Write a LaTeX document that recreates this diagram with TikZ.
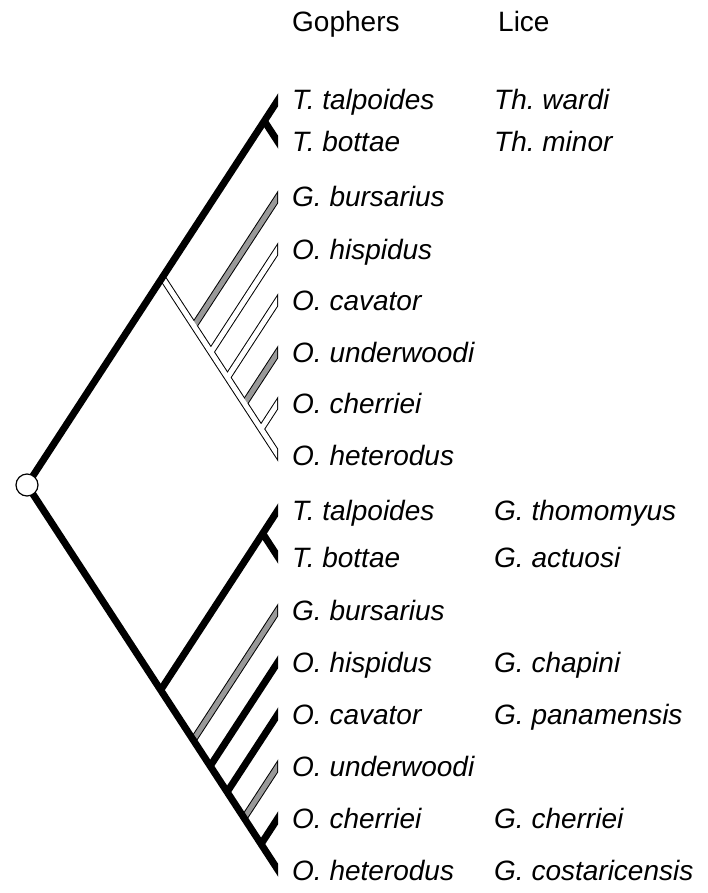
\documentclass[tikz,border=0pt]{standalone}
\usepackage{fontspec}
\setmainfont{Liberation Sans}
\frenchspacing
\definecolor{hostgrey}{RGB}{153,153,153}

\begin{document}
\begin{tikzpicture}[x=1pt,y=-1pt]

\tikzset{branch/.style = {line width=7pt, shorten >=-12pt}}
\tikzset{outline/.style = {line width=7pt, black, shorten >=-12pt}}
\tikzset{hollow/.style = {line width=5pt, shorten >=-12pt}}
\tikzset{rootdot/.style = {shape=circle, draw, fill=white, line width=1.2pt, minimum size=22pt, inner sep=0pt}}
\tikzset{taxon/.style = {anchor=west, inner sep=0pt, text height=20pt, text depth=0pt, font=\fontsize{28}{34}\selectfont\itshape}}
\tikzset{head/.style = {anchor=west, inner sep=0pt, text height=20pt, text depth=0pt, font=\fontsize{28}{34}\selectfont}}

\useasboundingbox (0,0) rectangle (708,893);

% internal nodes
\coordinate (root) at (27,485);
\coordinate (A)   at (162.3,277.5);
\coordinate (uT)  at (264.3,121);
\coordinate (uN1) at (193.9,326);
\coordinate (uN2) at (210.9,352);
\coordinate (uN3) at (227.5,377.5);
\coordinate (uN4) at (244.4,403.5);
\coordinate (uN5) at (261.1,429);
\coordinate (B)   at (160.7,690);
\coordinate (lT)  at (262.7,533.5);
\coordinate (lN1) at (193.3,740);
\coordinate (lN2) at (210.2,766);
\coordinate (lN3) at (227.1,792);
\coordinate (lN4) at (244.1,818);
\coordinate (lN5) at (261.1,844);

% leaves
\coordinate (ut1) at (278,100);
\coordinate (ut2) at (278,142);
\coordinate (ug)  at (278,197);
\coordinate (uhi) at (278,249);
\coordinate (uca) at (278,300);
\coordinate (uun) at (278,352);
\coordinate (uch) at (278,403);
\coordinate (uhe) at (278,455);
\coordinate (lt1) at (278,510);
\coordinate (lt2) at (278,557);
\coordinate (lg)  at (278,610);
\coordinate (lhi) at (278,662);
\coordinate (lca) at (278,714);
\coordinate (lun) at (278,766);
\coordinate (lch) at (278,818);
\coordinate (lhe) at (278,870);

% hollow branches, outline first
\begin{scope}
\clip (0,0) rectangle (278,893);
\foreach \a/\b in {A/uhe, uN1/ug, uN2/uhi, uN3/uca, uN4/uun, uN5/uch, lN1/lg, lN4/lun}
  \draw[outline] (\a) -- (\b);
\end{scope}
\begin{scope}
\clip (0,0) rectangle (277,893);
\draw[hollow, hostgrey] (uN1) -- (ug);
\draw[hollow, hostgrey] (uN4) -- (uun);
\draw[hollow, hostgrey] (lN1) -- (lg);
\draw[hollow, hostgrey] (lN4) -- (lun);
\foreach \a/\b in {uN2/uhi, uN3/uca, uN5/uch, A/uhe}
  \draw[hollow, white] (\a) -- (\b);
\end{scope}

% solid branches
\begin{scope}
\clip (0,0) rectangle (278,893);
\foreach \a/\b in {root/ut1, uT/ut2, root/lhe, B/lt1, lT/lt2, lN2/lhi, lN3/lca, lN5/lch}
  \draw[branch] (\a) -- (\b);
\end{scope}

\node[rootdot] (origin) at (root) {};

% column heads
\node[head] (gophers) at (292,22) {Gophers};
\node[head] (lice) at (498,22) {Lice};

% gophers
\node[taxon] (g1)  at (292,100) {T. talpoides};
\node[taxon] (g2)  at (292,142) {T. bottae};
\node[taxon] (g3)  at (292,197) {G. bursarius};
\node[taxon] (g4)  at (292,249) {O. hispidus};
\node[taxon] (g5)  at (292,300) {O. cavator};
\node[taxon] (g6)  at (292,352) {O. underwoodi};
\node[taxon] (g7)  at (292,403) {O. cherriei};
\node[taxon] (g8)  at (292,455) {O. heterodus};
\node[taxon] (g9)  at (292,510) {T. talpoides};
\node[taxon] (g10) at (292,557) {T. bottae};
\node[taxon] (g11) at (292,610) {G. bursarius};
\node[taxon] (g12) at (292,662) {O. hispidus};
\node[taxon] (g13) at (292,714) {O. cavator};
\node[taxon] (g14) at (292,766) {O. underwoodi};
\node[taxon] (g15) at (292,818) {O. cherriei};
\node[taxon] (g16) at (292,870) {O. heterodus};

% lice
\node[taxon] (l1)  at (494,100) {Th. wardi};
\node[taxon] (l2)  at (494,142) {Th. minor};
\node[taxon] (l9)  at (494,510) {G. thomomyus};
\node[taxon] (l10) at (494,557) {G. actuosi};
\node[taxon] (l12) at (494,662) {G. chapini};
\node[taxon] (l13) at (494,714) {G. panamensis};
\node[taxon] (l15) at (494,818) {G. cherriei};
\node[taxon] (l16) at (494,870) {G. costaricensis};

\end{tikzpicture}
\end{document}
